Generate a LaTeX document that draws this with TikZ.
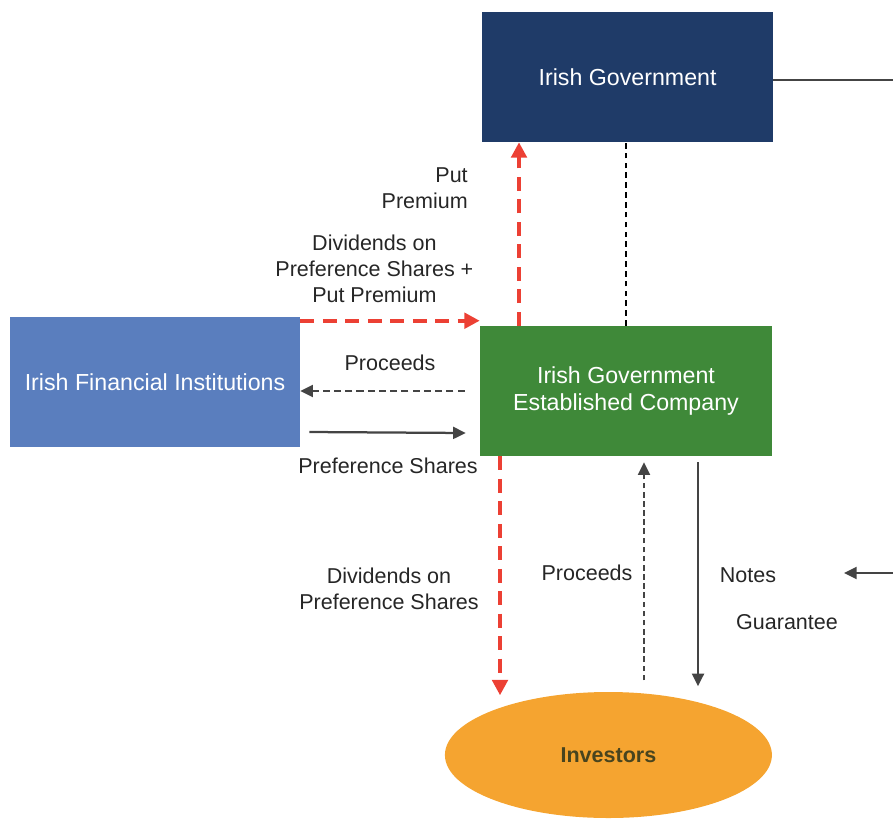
\documentclass[tikz,border=0pt]{standalone}
\usepackage{fontspec}
\setmainfont{Liberation Sans}
\usetikzlibrary{shapes.geometric, arrows.meta, calc}

\definecolor{governo}{RGB}{31,59,104}
\definecolor{banche}{RGB}{90,126,190}
\definecolor{societa}{RGB}{63,137,57}
\definecolor{investitori}{RGB}{245,164,48}
\definecolor{scritta}{RGB}{72,68,30}
\definecolor{rosso}{RGB}{236,64,52}
\definecolor{grigio}{RGB}{68,68,68}
\definecolor{testo}{RGB}{38,38,38}

\begin{document}
\begin{tikzpicture}[
  font=\fontsize{15.3}{18.4}\selectfont,
  scatola/.style={draw=none, text=white, align=center, inner sep=0pt,
                  font=\fontsize{16.5}{18.6}\selectfont, minimum height=3.25cm},
  flussorosso/.style={draw=rosso, line width=3pt, dash pattern=on 10pt off 6pt,
                      -{Triangle[length=11pt,width=11pt]}},
  flussogrigio/.style={draw=grigio, line width=1.6pt, -{Triangle[length=9pt,width=8.5pt]}},
  etichetta/.style={text=testo, align=center, inner sep=0pt}
]
\useasboundingbox (0,0) rectangle (22.325,-20.5);

\node[scatola, fill=governo, minimum width=7.275cm] (G) at (15.69,-1.925) {Irish Government};
\node[scatola, fill=banche, minimum width=7.25cm] (F) at (3.875,-9.55) {Irish Financial Institutions};
\node[scatola, fill=societa, minimum width=7.3cm] (S) at (15.65,-9.775) {Irish Government\\ Established Company};
\node[ellipse, fill=investitori, text=scritta, inner sep=0pt, minimum width=8.175cm,
      minimum height=3.15cm, font=\fontsize{15.3}{18}\selectfont\bfseries] (N) at (15.21,-18.875) {Investors};

% estremi liberi sul bordo destro
\coordinate (bordoA) at (22.4,-2.0);
\coordinate (bordoB) at (22.4,-14.325);
\coordinate (puntaB) at (21.1,-14.325);

\draw[grigio, line width=1.2pt] (G.east |- bordoA) -- (bordoA);
\draw[flussogrigio] (bordoB) -- (puntaB);

% flussi in rosso
\coordinate (partenzaR) at ([yshift=-0.1cm]F.north east);
\draw[flussorosso] (partenzaR) -- (partenzaR -| S.west);
\draw[flussorosso] ([xshift=-2.675cm]S.north) -- ([xshift=-2.675cm]S.north |- G.south);
\draw[flussorosso] ([xshift=-3.15cm]S.south) -- ++(0,-5.975);

% collegamento tratteggiato
\draw[black, line width=1.1pt, dash pattern=on 4pt off 3pt] (S.north) -- (S.north |- G.south);

% tra istituzioni e societa
\draw[flussogrigio, dash pattern=on 5pt off 3pt] ([xshift=-0.375cm]S.west) -- (S.west -| F.east);
\draw[flussogrigio] ([shift={(0.225,-1.25)}]F.east) -- ([shift={(-0.35,-1.05)}]S.west);

% verso e dagli investitori
\draw[flussogrigio, dash pattern=on 4pt off 2.5pt] ([xshift=0.45cm,yshift=-5.6cm]S.south) -- ([xshift=0.45cm,yshift=-0.15cm]S.south);
\draw[flussogrigio] ([xshift=1.8cm,yshift=-0.15cm]S.south) -- ([xshift=1.8cm,yshift=-5.75cm]S.south);

% etichette
\node[etichetta, align=right, anchor=east] (e1) at (11.7,-4.7) {Put\\ Premium};
\node[etichetta] (e2) at (9.36,-6.725) {Dividends on\\ Preference Shares +\\ Put Premium};
\node[etichetta] (e3) at (9.75,-9.075) {Proceeds};
\node[etichetta] (e4) at (9.7,-11.65) {Preference Shares};
\node[etichetta] (e5) at (9.725,-14.725) {Dividends on\\ Preference Shares};
\node[etichetta] (e6) at (14.675,-14.325) {Proceeds};
\node[etichetta] (e7) at (18.7,-14.375) {Notes};
\node[etichetta] (e8) at (19.675,-15.55) {Guarantee};

\end{tikzpicture}
\end{document}
